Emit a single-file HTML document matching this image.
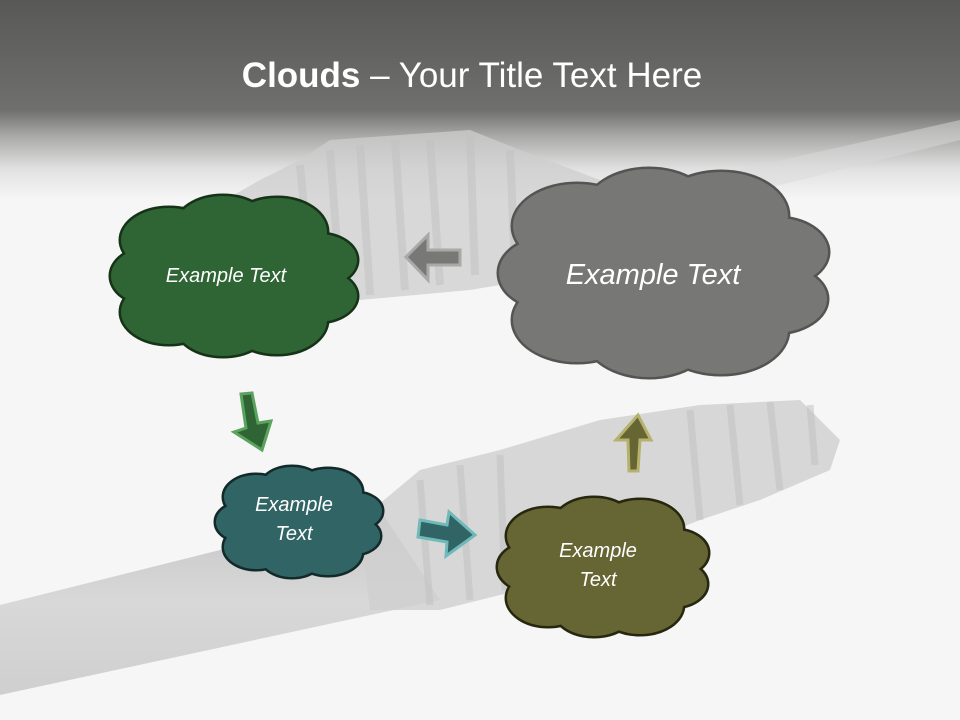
<!DOCTYPE html>
<html><head><meta charset="utf-8"><style>
html,body{margin:0;padding:0;width:960px;height:720px;overflow:hidden;background:#f6f6f6}
svg{display:block}
text{font-family:"Liberation Sans",sans-serif}
</style></head><body>
<svg width="960" height="720" viewBox="0 0 960 720" xmlns="http://www.w3.org/2000/svg">
<defs>
<linearGradient id="top" x1="0" y1="0" x2="0" y2="1">
<stop offset="0" stop-color="#585956"/>
<stop offset="0.55" stop-color="#6f706d"/>
<stop offset="0.68" stop-color="#a9aaa8"/>
<stop offset="0.85" stop-color="#e2e2e2"/>
<stop offset="1" stop-color="#f6f6f6"/>
</linearGradient>
<linearGradient id="handle" x1="0" y1="0" x2="0" y2="1">
<stop offset="0" stop-color="#c6c6c6"/>
<stop offset="0.5" stop-color="#d8d8d8"/>
<stop offset="1" stop-color="#cfcfcf"/>
</linearGradient>
<g id="cg">
<ellipse cx="169" cy="240" rx="48" ry="32"/><ellipse cx="223" cy="228" rx="48" ry="32"/><ellipse cx="277" cy="232" rx="50" ry="34"/><ellipse cx="319" cy="260" rx="38" ry="26"/><ellipse cx="317" cy="296" rx="40" ry="26"/><ellipse cx="277" cy="320" rx="50" ry="34"/><ellipse cx="223" cy="324" rx="48" ry="32"/><ellipse cx="169" cy="312" rx="48" ry="32"/><ellipse cx="149" cy="276" rx="38" ry="28"/><ellipse cx="235" cy="276" rx="78" ry="48"/>
</g>
<g id="cy">
<ellipse cx="577" cy="226" rx="64" ry="42"/><ellipse cx="649" cy="211" rx="64" ry="42"/><ellipse cx="721" cy="216" rx="67" ry="44"/><ellipse cx="777" cy="252" rx="51" ry="34"/><ellipse cx="774" cy="299" rx="53" ry="34"/><ellipse cx="721" cy="330" rx="67" ry="44"/><ellipse cx="649" cy="335" rx="64" ry="42"/><ellipse cx="577" cy="320" rx="64" ry="42"/><ellipse cx="550" cy="273" rx="51" ry="36"/><ellipse cx="665" cy="273" rx="104" ry="62"/>
</g>
<g id="ct">
<ellipse cx="256" cy="497" rx="32" ry="22"/><ellipse cx="292" cy="489" rx="32" ry="22"/><ellipse cx="328" cy="492" rx="34" ry="23"/><ellipse cx="356" cy="511" rx="26" ry="18"/><ellipse cx="354" cy="536" rx="26" ry="18"/><ellipse cx="328" cy="552" rx="34" ry="23"/><ellipse cx="292" cy="555" rx="32" ry="22"/><ellipse cx="256" cy="547" rx="32" ry="22"/><ellipse cx="242" cy="522" rx="26" ry="19"/><ellipse cx="300" cy="522" rx="52" ry="33"/>
</g>
<g id="co">
<ellipse cx="548" cy="536" rx="41" ry="28"/><ellipse cx="594" cy="526" rx="41" ry="28"/><ellipse cx="640" cy="529" rx="43" ry="29"/><ellipse cx="675" cy="553" rx="33" ry="23"/><ellipse cx="673" cy="584" rx="34" ry="23"/><ellipse cx="640" cy="605" rx="43" ry="29"/><ellipse cx="594" cy="608" rx="41" ry="28"/><ellipse cx="548" cy="598" rx="41" ry="28"/><ellipse cx="531" cy="567" rx="33" ry="24"/><ellipse cx="604" cy="567" rx="66" ry="41"/>
</g>
</defs>
<rect width="960" height="720" fill="#f6f6f6"/>
<rect width="960" height="200" fill="url(#top)"/>
<polygon points="560,210 960,120 960,140 620,225" fill="#d9d9d9" opacity="0.5"/>
<polygon points="225,200 260,180 300,160 330,140 400,135 470,130 520,150 600,180 620,210 560,275 470,290 360,300 300,280 250,230" fill="#cdcdcd" opacity="0.75"/>
<g stroke="#c2c2c2" stroke-width="8" opacity="0.5">
<line x1="300" y1="165" x2="310" y2="270"/><line x1="330" y1="150" x2="340" y2="285"/><line x1="360" y1="145" x2="370" y2="295"/><line x1="395" y1="140" x2="405" y2="290"/><line x1="430" y1="140" x2="440" y2="285"/><line x1="470" y1="135" x2="475" y2="275"/><line x1="510" y1="150" x2="515" y2="270"/>
</g>
<polygon points="0,605 380,510 440,600 0,695" fill="url(#handle)"/>
<polygon points="360,520 420,470 500,450 600,420 700,405 800,400 840,440 830,470 760,500 700,520 600,560 520,590 440,610 370,610" fill="#cfcfcf" opacity="0.8"/>
<g stroke="#c0c0c0" stroke-width="7" opacity="0.5">
<line x1="420" y1="480" x2="430" y2="605"/><line x1="460" y1="465" x2="470" y2="600"/><line x1="500" y1="455" x2="505" y2="590"/><line x1="690" y1="410" x2="700" y2="520"/><line x1="730" y1="405" x2="740" y2="505"/><line x1="770" y1="402" x2="780" y2="490"/><line x1="810" y1="405" x2="815" y2="465"/>
</g>
<text x="472" y="87" font-size="35" fill="#ffffff" text-anchor="middle"><tspan font-weight="bold">Clouds</tspan> – Your Title Text Here</text>

<use href="#cg" fill="#2f6434" stroke="#163318" stroke-width="5"/>
<use href="#cg" fill="#2f6434"/>
<text x="226" y="282" font-size="20" font-style="italic" fill="#fff" text-anchor="middle">Example Text</text>

<use href="#cy" fill="#777875" stroke="#545553" stroke-width="5"/>
<use href="#cy" fill="#777875"/>
<text x="653" y="284" font-size="29" font-style="italic" fill="#fff" text-anchor="middle">Example Text</text>

<use href="#ct" fill="#316465" stroke="#142a2a" stroke-width="5"/>
<use href="#ct" fill="#316465"/>
<text x="294" y="511" font-size="20" font-style="italic" fill="#fff" text-anchor="middle">Example</text>
<text x="294" y="540" font-size="20" font-style="italic" fill="#fff" text-anchor="middle">Text</text>

<use href="#co" fill="#666534" stroke="#27270f" stroke-width="5"/>
<use href="#co" fill="#666534"/>
<text x="598" y="557" font-size="20" font-style="italic" fill="#fff" text-anchor="middle">Example</text>
<text x="598" y="586" font-size="20" font-style="italic" fill="#fff" text-anchor="middle">Text</text>

<polygon points="406,257 428,235 428,250 460,250 460,265 428,265 428,280" fill="#787876" stroke="#a9a9a7" stroke-width="3"/>
<polygon points="241,394 252,393 258,423 271,421 262,450 234,432 246,428" fill="#2f6434" stroke="#5aa35e" stroke-width="3"/>
<polygon points="420,520 447,525 449,512 475,535 446,556 447,542 418,537" fill="#316465" stroke="#6fb9b9" stroke-width="3"/>
<polygon points="629,471 638,471 640,440 651,440 638,415 616,440 628,440" fill="#666534" stroke="#b6b26e" stroke-width="3"/>
</svg>
</body></html>
